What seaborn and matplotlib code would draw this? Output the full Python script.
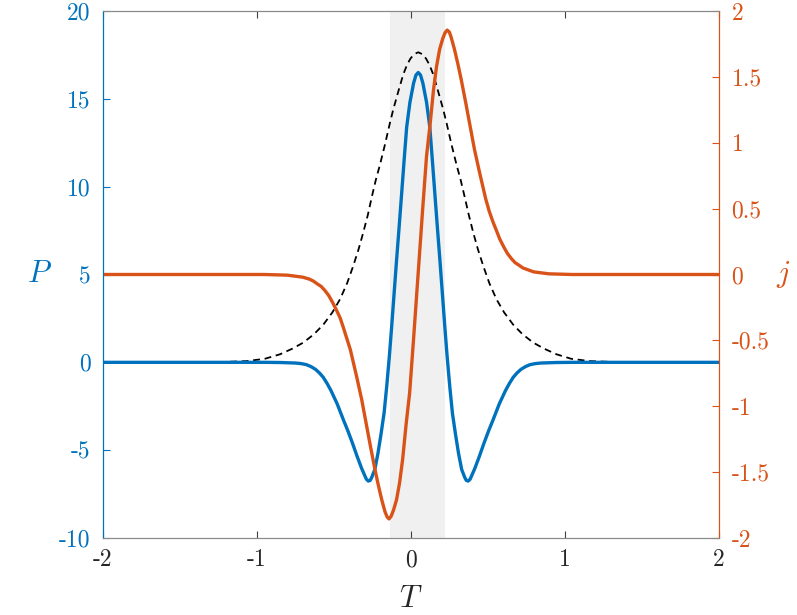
import numpy as np
import pandas as pd
import seaborn as sns
import matplotlib.pyplot as plt

"""
Two-axis pulse profile: P (left) and j (right) against T
"""
# P curve (blue)
p_t = [-2.0, -1.2, -0.95, -0.85, -0.75, -0.715, -0.68, -0.65, -0.62, -0.595, -0.57, -0.545,
       -0.52, -0.48, -0.44, -0.41, -0.38, -0.35, -0.32, -0.30, -0.29, -0.277, -0.265,
       -0.255, -0.235, -0.215, -0.195, -0.175, -0.158, -0.14, -0.125, -0.109, -0.093,
       -0.078, -0.06, -0.043, -0.028, -0.007, 0.017, 0.032, 0.047, 0.062, 0.077, 0.101,
       0.122, 0.137, 0.154, 0.172, 0.187, 0.203, 0.219, 0.234, 0.252, 0.269, 0.289, 0.309,
       0.329, 0.349, 0.359, 0.371, 0.384, 0.394, 0.414, 0.444, 0.474, 0.504, 0.534, 0.574,
       0.614, 0.639, 0.664, 0.689, 0.714, 0.744, 0.774, 0.809, 0.844, 0.944, 1.047, 1.3, 2.0]
p_val = [0, 0, 0, -0.01, -0.04, -0.07, -0.13, -0.24, -0.4, -0.6, -0.85, -1.2,
         -1.6, -2.35, -3.25, -3.9, -4.6, -5.35, -6.05, -6.45, -6.65, -6.76, -6.72,
         -6.55, -6.1, -5.2, -4.1, -2.9, -1.4, 0.4, 2.1, 4.0, 5.9,
         7.6, 9.7, 11.7, 13.4, 14.8, 15.9, 16.35, 16.5, 16.35, 15.9, 14.8,
         13.4, 11.7, 9.7, 7.6, 5.9, 4.0, 2.1, 0.4, -1.4, -2.9, -4.1, -5.2,
         -6.1, -6.55, -6.72, -6.76, -6.65, -6.45, -6.05, -5.35, -4.6, -3.9, -3.25, -2.35,
         -1.6, -1.2, -0.85, -0.6, -0.4, -0.24, -0.13, -0.07, -0.04, -0.01, 0, 0, 0]

# dashed envelope (black, left axis)
env_t = [-2.0, -1.5, -1.2, -1.067, -0.95, -0.85, -0.77, -0.7, -0.63, -0.569, -0.51, -0.461,
         -0.415, -0.375, -0.34, -0.31, -0.28, -0.255, -0.228, -0.203, -0.169, -0.136, -0.115,
         -0.083, -0.05, -0.025, -0.003, 0.022, 0.047, 0.072, 0.097, 0.119, 0.144, 0.177,
         0.209, 0.23, 0.263, 0.297, 0.322, 0.349, 0.375, 0.404, 0.434, 0.469, 0.509, 0.555,
         0.604, 0.663, 0.724, 0.794, 0.864, 0.944, 1.041, 1.161, 1.294, 1.594, 2.0]
env_val = [0, 0.005, 0.025, 0.07, 0.2, 0.46, 0.78, 1.12, 1.6, 2.15, 2.85, 3.59,
           4.5, 5.49, 6.45, 7.39, 8.4, 9.4, 10.4, 11.2, 12.4, 13.66, 14.4,
           15.4, 16.4, 16.95, 17.3, 17.55, 17.65, 17.55, 17.3, 16.95, 16.4, 15.4,
           14.4, 13.66, 12.4, 11.2, 10.4, 9.4, 8.4, 7.39, 6.45, 5.49, 4.5, 3.59,
           2.85, 2.15, 1.6, 1.12, 0.78, 0.46, 0.2, 0.07, 0.025, 0.005, 0]

# j curve (orange, right axis)
j_t = [-2.0, -1.2, -0.954, -0.804, -0.704, -0.66, -0.634, -0.61, -0.584, -0.56, -0.534,
       -0.51, -0.484, -0.46, -0.44, -0.394, -0.354, -0.32, -0.288, -0.264, -0.234, -0.212,
       -0.19, -0.169, -0.155, -0.143, -0.129, -0.114, -0.094, -0.074, -0.054, -0.032,
       -0.009, 0.016, 0.034, 0.046, 0.058, 0.076, 0.101, 0.124, 0.146, 0.166, 0.186, 0.206,
       0.221, 0.235, 0.249, 0.261, 0.282, 0.304, 0.326, 0.356, 0.38, 0.412, 0.446, 0.486,
       0.508, 0.532, 0.556, 0.576, 0.602, 0.626, 0.652, 0.676, 0.702, 0.726, 0.796, 0.896,
       1.046, 1.3, 2.0]
j_val = [0, 0, 0, -0.005, -0.02, -0.035, -0.05, -0.07, -0.09, -0.12, -0.16,
         -0.21, -0.27, -0.33, -0.40, -0.57, -0.77, -0.95, -1.15, -1.3, -1.48, -1.6,
         -1.71, -1.80, -1.84, -1.855, -1.835, -1.79, -1.71, -1.58, -1.40, -1.14,
         -0.9, -0.5, -0.2, 0, 0.2, 0.5, 0.9, 1.14, 1.40, 1.58, 1.71, 1.79,
         1.835, 1.855, 1.84, 1.80, 1.71, 1.6, 1.48, 1.3, 1.15, 0.95, 0.77, 0.57,
         0.48, 0.40, 0.33, 0.27, 0.21, 0.16, 0.12, 0.09, 0.07, 0.05, 0.02, 0.005,
         0, 0, 0]

# shaded window
shade_lo, shade_hi = -0.135, 0.22

x_ticks = [-2, -1, 0, 1, 2]
p_ticks = [-10, -5, 0, 5, 10, 15, 20]
j_ticks = [-2, -1.5, -1, -0.5, 0, 0.5, 1, 1.5, 2]

blue = "#0072BD"
orange = "#D95319"

sns.set_theme(style="white")
plt.rcParams["font.family"] = ["cmr10", "DejaVu Serif"]
plt.rcParams["mathtext.fontset"] = "cm"
plt.rcParams["axes.unicode_minus"] = False

df_p = pd.DataFrame({"T": p_t, "P": p_val})
df_env = pd.DataFrame({"T": env_t, "P": env_val})
df_j = pd.DataFrame({"T": j_t, "j": j_val})

fig, ax = plt.subplots(figsize=(7.97, 6.15), dpi=100)
fig.subplots_adjust(left=103/797, right=719/797, top=1-11/615, bottom=1-538/615)
ax2 = ax.twinx()

ax.axvspan(shade_lo, shade_hi, color="#F0F0F0", lw=0, zorder=0)
sns.lineplot(data=df_env, x="T", y="P", ax=ax, color="black", lw=1.3,
             linestyle=(0, (3.8, 2.6)), estimator=None, sort=False)
sns.lineplot(data=df_p, x="T", y="P", ax=ax, color=blue, lw=2.4, estimator=None, sort=False)
sns.lineplot(data=df_j, x="T", y="j", ax=ax2, color=orange, lw=2.4, estimator=None, sort=False)

fs = 17
ax.set_xlim(-2, 2)
ax.set_ylim(-10, 20)
ax2.set_ylim(-2, 2)
ax.set_xticks(x_ticks)
ax.set_xticklabels([f"{t:g}" for t in x_ticks], fontsize=fs)
ax.set_yticks(p_ticks)
ax.set_yticklabels([f"{t:g}" for t in p_ticks], fontsize=fs, color=blue)
ax2.set_yticks(j_ticks)
ax2.set_yticklabels([f"{t:g}" for t in j_ticks], fontsize=fs, color=orange)

ax.tick_params(axis="x", direction="in", length=5, width=0.8, color="#404040",
               top=True, bottom=True, pad=8)
ax.tick_params(axis="y", direction="in", length=5, width=0.8, color=blue, pad=9,
               left=True, right=False)
ax2.tick_params(axis="y", direction="in", length=5, width=0.8, color=orange, pad=9)

ax.set_xlabel("$T$", fontsize=22, labelpad=10)
ax.set_ylabel("$P$", fontsize=22, color=blue, rotation=0, labelpad=14, va="center")
ax2.set_ylabel("$j$", fontsize=22, color=orange, rotation=0, labelpad=10, va="center")

for a in (ax, ax2):
    a.spines["top"].set_color("#8a8a8a")
    a.spines["bottom"].set_color("#8a8a8a")
    a.spines["left"].set_color(blue)
    a.spines["right"].set_color(orange)
    for s in a.spines.values():
        s.set_linewidth(0.8)
        s.set_visible(True)
ax.grid(False)
ax2.grid(False)

fig.savefig("out.png", dpi=100)
